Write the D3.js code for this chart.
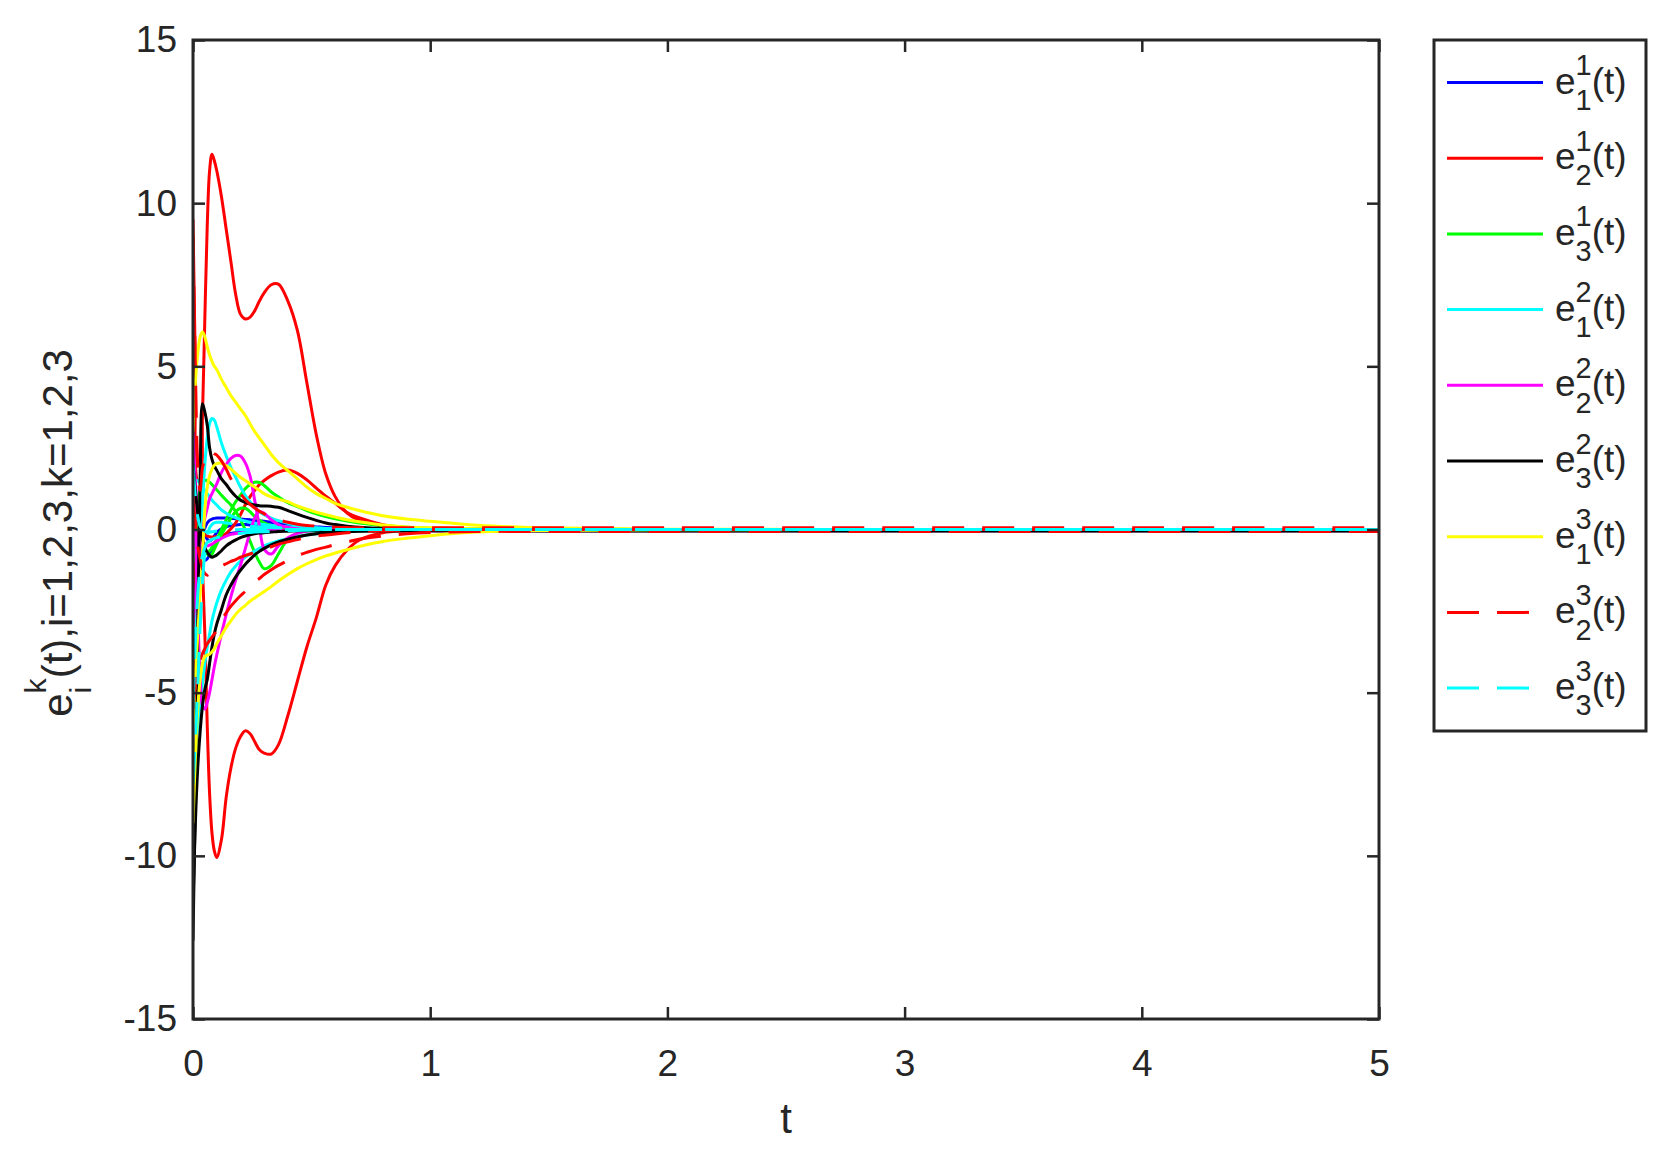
<!DOCTYPE html>
<html>
<head>
<meta charset="utf-8">
<title>synchronization errors</title>
<script src="https://d3js.org/d3.v7.min.js"></script>
<style>
body { margin: 0; background: #fff; }
text { font-family: "Liberation Sans", Arial, sans-serif; fill: #262626; }
.tick line { stroke: #262626; stroke-width: 2.5; }
</style>
</head>
<body>
<script>
// sample times (dense near t=0 where everything happens)
var tGrid = [0, .01, .02, .03, .04, .05, .06, .07, .08, .09,
             .1, .12, .14, .16, .18, .2, .22, .24, .26, .28,
             .3, .33, .36, .4, .44, .48, .52, .56, .6, .65,
             .7, .8, .9, 1, 1.2, 1.5, 2, 3, 4, 5];

// e_1^1 (blue), three components
var e11a = [-2.4, -1.5, -0.9, -0.5, -0.2, 0.05, 0.2, 0.28, 0.32, 0.34,
            0.35, 0.35, 0.35, 0.34, 0.33, 0.32, 0.31, 0.3, 0.28, 0.27,
            0.25, 0.22, 0.19, 0.16, 0.13, 0.1, 0.08, 0.06, 0.05, 0.03,
            0.02, 0.01, 0, 0, 0, 0, 0, 0, 0, 0];
var e11b = [1.5, 0.5, -0.3, -0.7, -0.9, -0.95, -0.9, -0.75, -0.6, -0.45,
            -0.35, -0.22, -0.15, -0.12, -0.1, -0.09, -0.08, -0.07, -0.06, -0.05,
            -0.05, -0.04, -0.03, -0.02, -0.02, -0.01, -0.01, 0, 0, 0,
            0, 0, 0, 0, 0, 0, 0, 0, 0, 0];
var e11c = [0.5, 0.8, 0.7, 0.4, 0.1, -0.15, -0.3, -0.35, -0.3, -0.2,
            -0.1, 0.02, 0.08, 0.12, 0.14, 0.15, 0.15, 0.14, 0.13, 0.12,
            0.11, 0.1, 0.09, 0.07, 0.06, 0.05, 0.04, 0.03, 0.02, 0.01,
            0.01, 0, 0, 0, 0, 0, 0, 0, 0, 0];

// e_2^1 (red)
var e21a = [9.5, 5.0, 1.5, 1.5, 3.5, 6.5, 9.3, 11.0, 11.5, 11.3,
            11.0, 10.2, 9.2, 8.2, 7.2, 6.6, 6.45, 6.5, 6.7, 7.0,
            7.25, 7.5, 7.52, 7.0, 6.1, 4.5, 2.9, 1.7, 1.0, 0.5,
            0.28, 0.1, 0.04, 0.015, 0.005, 0, 0, 0, 0, 0];
var e21b = [-5.0, -1.0, 0.5, 0.2, -1.2, -3.2, -6.0, -8.1, -9.3, -9.85,
            -10.05, -9.5, -8.2, -7.3, -6.7, -6.35, -6.17, -6.25, -6.5, -6.75,
            -6.85, -6.88, -6.6, -5.7, -4.65, -3.6, -2.7, -1.7, -1.1, -0.63,
            -0.33, -0.1, -0.04, -0.015, -0.005, 0, 0, 0, 0, 0];
var e21c = [0, 0.3, 0.2, 0, -0.1, -0.15, -0.2, -0.22, -0.23, -0.23,
            -0.22, -0.2, -0.12, 0.02, 0.2, 0.45, 0.75, 1.0, 1.2, 1.38,
            1.5, 1.65, 1.76, 1.82, 1.72, 1.52, 1.27, 1.02, 0.8, 0.52,
            0.36, 0.15, 0.06, 0.02, 0.005, 0, 0, 0, 0, 0];

// e_3^1 (green)
var e31a = [0.3, 0.5, 0.2, -0.2, -0.5, -0.65, -0.7, -0.65, -0.55, -0.45,
            -0.3, 0.0, 0.3, 0.6, 0.85, 1.05, 1.25, 1.38, 1.45, 1.44,
            1.35, 1.15, 1.0, 0.82, 0.7, 0.58, 0.48, 0.4, 0.33, 0.26,
            0.2, 0.12, 0.07, 0.04, 0.015, 0.005, 0, 0, 0, 0];
var e31b = [-1.0, 0.2, 0.8, 1.2, 1.4, 1.5, 1.5, 1.45, 1.38, 1.3,
            1.22, 1.05, 0.9, 0.75, 0.55, 0.3, 0.0, -0.35, -0.7, -1.0,
            -1.2, -1.1, -0.75, -0.3, -0.12, -0.04, -0.01, 0, 0, 0,
            0, 0, 0, 0, 0, 0, 0, 0, 0, 0];
var e31c = [-0.5, 0.1, 0.2, -0.1, -0.4, -0.6, -0.75, -0.8, -0.75, -0.6,
            -0.45, -0.15, 0.1, 0.35, 0.55, 0.65, 0.65, 0.55, 0.4, 0.28,
            0.2, 0.12, 0.08, 0.05, 0.03, 0.02, 0.01, 0, 0, 0,
            0, 0, 0, 0, 0, 0, 0, 0, 0, 0];

// e_1^2 (cyan)
var e12a = [-4.0, -3.0, -2.0, -0.5, 0.8, 2.0, 2.8, 3.25, 3.4, 3.35,
            3.15, 2.65, 2.25, 1.9, 1.6, 1.3, 1.05, 0.85, 0.68, 0.55,
            0.45, 0.35, 0.27, 0.19, 0.13, 0.08, 0.05, 0.03, 0.02, 0.01,
            0, 0, 0, 0, 0, 0, 0, 0, 0, 0];
var e12b = [-7.5, -6.8, -6.0, -5.3, -4.7, -4.1, -3.6, -3.2, -2.8, -2.5,
            -2.25, -1.85, -1.55, -1.3, -1.12, -0.97, -0.85, -0.75, -0.66, -0.58,
            -0.5, -0.42, -0.35, -0.28, -0.22, -0.17, -0.13, -0.1, -0.08, -0.05,
            -0.04, -0.02, -0.01, 0, 0, 0, 0, 0, 0, 0];
var e12c = [1.0, 1.5, 1.5, 1.4, 1.3, 1.2, 1.1, 1.0, 0.9, 0.82,
            0.75, 0.6, 0.5, 0.42, 0.36, 0.3, 0.26, 0.22, 0.19, 0.17,
            0.15, 0.12, 0.1, 0.08, 0.06, 0.04, 0.03, 0.02, 0.01, 0,
            0, 0, 0, 0, 0, 0, 0, 0, 0, 0];

// e_2^2 (magenta)
var e22a = [-3.0, -2.0, -1.2, -0.5, 0.0, 0.35, 0.65, 0.95, 1.1, 1.25,
            1.4, 1.75, 2.0, 2.18, 2.27, 2.25, 2.05, 1.65, 0.9, 0.1,
            -0.6, -0.75, -0.5, -0.25, -0.12, -0.05, -0.02, -0.01, 0, 0,
            0, 0, -0.02, -0.04, -0.04, -0.04, -0.04, -0.04, -0.04, -0.04];
var e22b = [2.5, 0.0, -2.5, -4.5, -5.4, -5.5, -5.3, -5.0, -4.6, -4.2,
            -3.85, -3.2, -2.6, -2.05, -1.55, -1.1, -0.6, -0.1, 0.35, 0.55,
            0.5, 0.3, 0.15, 0.06, 0.02, 0.01, 0, 0, 0, 0,
            0, 0, 0, 0, 0, 0, 0, 0, 0, 0];
var e22c = [3.0, 1.5, 0.5, 0.0, -0.3, -0.45, -0.5, -0.48, -0.45, -0.4,
            -0.35, -0.27, -0.2, -0.15, -0.12, -0.1, -0.08, -0.07, -0.06, -0.05,
            -0.05, -0.04, -0.03, -0.02, -0.01, 0, 0, 0, 0, 0,
            0, 0, 0, 0, 0, 0, 0, 0, 0, 0];

// e_3^2 (black)
var e32a = [-12.6, -8.0, -3.0, 1.5, 3.85, 3.6, 3.2, 2.5, 2.15, 1.95,
            1.82, 1.55, 1.38, 1.18, 1.02, 0.9, 0.83, 0.78, 0.75, 0.73,
            0.72, 0.71, 0.68, 0.58, 0.47, 0.37, 0.28, 0.2, 0.15, 0.1,
            0.07, 0.03, 0.01, 0, -0.02, -0.04, -0.04, -0.04, -0.04, -0.04];
var e32b = [-11.5, -9.0, -7.3, -6.2, -5.4, -4.9, -4.6, -4.1, -3.6, -3.2,
            -2.9, -2.45, -2.0, -1.7, -1.45, -1.25, -1.07, -0.92, -0.78, -0.67,
            -0.58, -0.47, -0.38, -0.3, -0.23, -0.17, -0.13, -0.1, -0.08, -0.06,
            -0.05, -0.04, -0.04, -0.04, -0.04, -0.04, -0.04, -0.04, -0.04, -0.04];
var e32c = [2.0, 1.2, 0.5, 0.0, -0.3, -0.55, -0.7, -0.8, -0.85, -0.82,
            -0.78, -0.65, -0.5, -0.4, -0.32, -0.25, -0.2, -0.16, -0.13, -0.11,
            -0.1, -0.08, -0.06, -0.05, -0.04, -0.04, -0.04, -0.04, -0.04, -0.04,
            -0.04, -0.04, -0.04, -0.04, -0.04, -0.04, -0.04, -0.04, -0.04, -0.04];

// e_1^3 (yellow)
var e13a = [3.0, 4.5, 5.4, 5.9, 6.05, 5.9, 5.6, 5.35, 5.15, 5.0,
            4.9, 4.6, 4.35, 4.1, 3.9, 3.7, 3.5, 3.25, 3.0, 2.8,
            2.6, 2.3, 2.05, 1.8, 1.55, 1.3, 1.1, 0.95, 0.8, 0.68,
            0.58, 0.42, 0.32, 0.25, 0.13, 0.05, 0.01, 0, 0, 0];
var e13b = [-6.0, -4.5, -3.2, -2.0, -0.8, 0.6, 1.3, 1.65, 1.85, 1.97,
            2.02, 2.03, 1.95, 1.85, 1.72, 1.6, 1.5, 1.4, 1.3, 1.2,
            1.1, 1.0, 0.93, 0.85, 0.72, 0.62, 0.53, 0.45, 0.38, 0.3,
            0.24, 0.14, 0.08, 0.05, 0.02, 0.005, 0, 0, 0, 0];
var e13c = [-9.0, -7.0, -5.5, -4.6, -4.1, -3.9, -3.85, -3.82, -3.75, -3.65,
            -3.5, -3.25, -3.0, -2.8, -2.6, -2.45, -2.33, -2.2, -2.1, -2.0,
            -1.9, -1.75, -1.58, -1.38, -1.2, -1.05, -0.92, -0.81, -0.72, -0.62,
            -0.52, -0.37, -0.27, -0.19, -0.08, -0.03, -0.01, 0, 0, 0];

// e_2^3 (red dashed)
var e23a = [9.0, 5.0, 2.0, 1.2, 1.9, 2.15, 2.3, 2.38, 2.37, 2.32,
            2.28, 2.1, 1.85, 1.55, 1.3, 1.1, 0.92, 0.78, 0.66, 0.56,
            0.48, 0.38, 0.3, 0.22, 0.16, 0.12, 0.1, 0.08, 0.07, 0.06,
            0.05, 0.05, 0.05, 0.05, 0.05, 0.05, 0.05, 0.05, 0.05, 0.05];
var e23b = [-5.5, -4.8, -4.3, -4.0, -3.8, -3.65, -3.5, -3.4, -3.3, -3.2,
            -3.1, -2.8, -2.55, -2.35, -2.18, -2.03, -1.9, -1.75, -1.6, -1.5,
            -1.38, -1.23, -1.1, -0.95, -0.8, -0.7, -0.61, -0.54, -0.46, -0.38,
            -0.3, -0.2, -0.13, -0.09, -0.06, -0.06, -0.06, -0.06, -0.06, -0.06];
var e23c = [1.0, 0.2, -0.5, -0.9, -1.2, -1.35, -1.4, -1.35, -1.3, -1.25,
            -1.2, -1.12, -1.05, -0.98, -0.92, -0.85, -0.8, -0.75, -0.7, -0.65,
            -0.6, -0.53, -0.45, -0.38, -0.31, -0.25, -0.2, -0.17, -0.14, -0.1,
            -0.07, -0.04, -0.02, -0.01, 0, 0, 0, 0, 0, 0];

// e_3^3 (cyan dashed)
var e33a = [-7.8, -6.5, -4.8, -3.0, -1.6, -0.7, -0.2, 0.05, 0.15, 0.2,
            0.22, 0.22, 0.2, 0.18, 0.16, 0.14, 0.12, 0.1, 0.09, 0.08,
            0.07, 0.06, 0.05, 0.04, 0.03, 0.02, 0.01, 0, 0, 0,
            0, 0, 0, 0, 0, 0, 0, 0, 0, 0];
var e33b = [-5.5, -3.5, -2.0, -1.2, -0.8, -0.55, -0.4, -0.35, -0.3, -0.27,
            -0.25, -0.21, -0.18, -0.15, -0.13, -0.12, -0.1, -0.09, -0.08, -0.07,
            -0.07, -0.06, -0.05, -0.04, -0.03, -0.02, -0.01, 0, 0, 0,
            0, 0, 0, 0, 0, 0, 0, 0, 0, 0];
var e33c = [2.0, 1.0, 0.4, 0.1, 0.0, -0.05, -0.08, -0.08, -0.07, -0.06,
            -0.05, -0.04, -0.03, -0.02, -0.01, 0, 0, 0, 0, 0,
            0, 0, 0, 0, 0, 0, 0, 0, 0, 0,
            0, 0, 0, 0, 0, 0, 0, 0, 0, 0];

var xTicks = [0, 1, 2, 3, 4, 5];
var yTicks = [-15, -10, -5, 0, 5, 10, 15];

// legend order = plotting order
var series = [
  {sub: "1", sup: "1", color: "#0000ff", dash: null, comps: [e11a, e11b, e11c]},
  {sub: "2", sup: "1", color: "#ff0000", dash: null, comps: [e21a, e21b, e21c]},
  {sub: "3", sup: "1", color: "#00ff00", dash: null, comps: [e31a, e31b, e31c]},
  {sub: "1", sup: "2", color: "#00ffff", dash: null, comps: [e12a, e12b, e12c]},
  {sub: "2", sup: "2", color: "#ff00ff", dash: null, comps: [e22a, e22b, e22c]},
  {sub: "3", sup: "2", color: "#000000", dash: null, comps: [e32a, e32b, e32c]},
  {sub: "1", sup: "3", color: "#ffff00", dash: null, comps: [e13a, e13b, e13c]},
  {sub: "2", sup: "3", color: "#ff0000", dash: "32,18", comps: [e23a, e23b, e23c]},
  {sub: "3", sup: "3", color: "#00ffff", dash: "32,18", comps: [e33a, e33b, e33c]}
];

var margin = {top: 40, right: 301, bottom: 142, left: 193},
    width = 1680 - margin.left - margin.right,
    height = 1161 - margin.top - margin.bottom;

var svg = d3.select("body").append("svg")
    .attr("width", 1680)
    .attr("height", 1161)
    .style("display", "block")
    .style("background", "#fff");

var plot = svg.append("g")
    .attr("transform", "translate(" + margin.left + "," + margin.top + ")");

var x = d3.scaleLinear().domain([0, 5]).range([0, width]);
var y = d3.scaleLinear().domain([-15, 15]).range([height, 0]);

plot.append("clipPath").attr("id", "clip")
  .append("rect").attr("width", width).attr("height", height);

var line = d3.line()
    .x(function(d) { return x(d[0]); })
    .y(function(d) { return y(d[1]); })
    .curve(d3.curveCatmullRom.alpha(0.5));

var curves = plot.append("g").attr("clip-path", "url(#clip)");
series.forEach(function(s) {
  s.comps.forEach(function(vals) {
    curves.append("path")
      .datum(d3.zip(tGrid, vals))
      .attr("d", line)
      .attr("fill", "none")
      .attr("stroke", s.color)
      .attr("stroke-width", 3)
      .attr("stroke-linejoin", "round")
      .attr("stroke-dasharray", s.dash);
  });
});

// axes: inward ticks on all four sides, MATLAB box style
function styleAxis(g) {
  g.attr("font-family", null).attr("font-size", null);
  g.select(".domain").remove();
  g.selectAll("text").style("font-size", "37px").attr("fill", "#262626");
}
var plain = function(d) { return String(d); };

plot.append("g")
    .attr("transform", "translate(0," + height + ")")
    .call(d3.axisBottom(x).tickValues(xTicks).tickFormat(plain).tickSizeInner(-12).tickSizeOuter(0).tickPadding(31))
    .call(styleAxis);
plot.append("g")
    .call(d3.axisTop(x).tickValues(xTicks).tickSizeInner(-12).tickSizeOuter(0).tickFormat(""))
    .call(styleAxis);
plot.append("g")
    .call(d3.axisLeft(y).tickValues(yTicks).tickFormat(plain).tickSizeInner(-12).tickSizeOuter(0).tickPadding(16))
    .call(styleAxis);
plot.append("g")
    .attr("transform", "translate(" + width + ",0)")
    .call(d3.axisRight(y).tickValues(yTicks).tickSizeInner(-12).tickSizeOuter(0).tickFormat(""))
    .call(styleAxis);

plot.append("rect")
    .attr("width", width).attr("height", height)
    .attr("fill", "none").attr("stroke", "#262626").attr("stroke-width", 3);

// x label
plot.append("text")
    .attr("x", width / 2)
    .attr("y", height + 114)
    .style("text-anchor", "middle")
    .style("font-size", "42px")
    .text("t");

// text with stacked sub/superscript after the base letter
function scriptText(parent, size, base, sub, sup, rest, up, down, ratio) {
  var g = parent.append("g");
  var tb = g.append("text").attr("x", 0).attr("y", 0).style("font-size", size + "px").text(base);
  var cx = tb.node().getComputedTextLength();
  var ss = size * ratio;
  var tsup = g.append("text").attr("x", cx).attr("y", -size * up).style("font-size", ss + "px").text(sup);
  var tsub = g.append("text").attr("x", cx).attr("y", size * down).style("font-size", ss + "px").text(sub);
  cx += Math.max(tsup.node().getComputedTextLength(), tsub.node().getComputedTextLength());
  var tr = g.append("text").attr("x", cx).attr("y", 0).style("font-size", size + "px").text(rest);
  cx += tr.node().getComputedTextLength();
  return {g: g, width: cx};
}

// y label, rotated
var yl = svg.append("g").attr("transform", "translate(72,533) rotate(-90)");
var ylab = scriptText(yl, 42, "e", "i", "k", "(t),i=1,2,3,k=1,2,3", 0.62, 0.45, 0.72);
ylab.g.attr("transform", "translate(" + (-ylab.width / 2) + ",0)");

// legend
var lg = svg.append("g");
lg.append("rect")
    .attr("x", 1434).attr("y", 40)
    .attr("width", 212).attr("height", 691)
    .attr("fill", "#fff").attr("stroke", "#262626").attr("stroke-width", 3);

series.forEach(function(s, i) {
  var cy = 82.5 + 75.7 * i;
  lg.append("line")
    .attr("x1", 1447).attr("x2", 1543)
    .attr("y1", cy).attr("y2", cy)
    .attr("stroke", s.color)
    .attr("stroke-width", 3)
    .attr("stroke-dasharray", s.dash);
  var lab = scriptText(lg, 37, "e", s.sub, s.sup, "(t)", 0.5, 0.44, 0.78);
  lab.g.attr("transform", "translate(1555," + (cy + 11) + ")");
});
</script>
</body>
</html>
